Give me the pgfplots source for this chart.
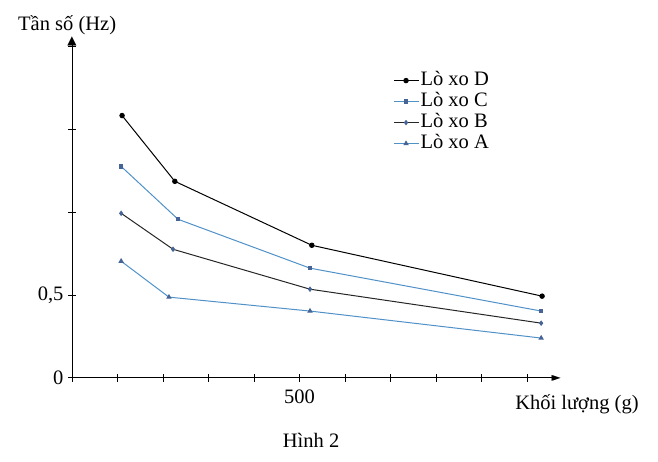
\documentclass[border=0pt]{standalone}
\usepackage{pgfplots}
\pgfplotsset{compat=1.18}
\usepackage{fontspec}
\setmainfont{Liberation Serif}
\newfontfamily\symfont{DejaVu Sans}
\definecolor{lblue}{RGB}{80,145,200}
\definecolor{mblue}{RGB}{70,100,150}
\begin{document}
\begin{tikzpicture}[x=1pt,y=1pt]
\useasboundingbox (0,0) rectangle (658,462);
\begin{axis}[
  at={(72pt,84pt)}, anchor=south west,
  scale only axis, width=486pt, height=338pt,
  xmin=0, xmax=1068, ymin=0, ymax=2.04,
  axis lines=left,
  axis line style={line width=1pt, -stealth},
  xtick={0,100,...,1000}, xticklabels={,,,,,500,,,,,},
  ytick={0,0.5,1,1.5,2}, yticklabels={0,{0,5},,,},
  tick align=center, major tick length=8pt,
  tick style={black, line width=1pt},
  font=\fontsize{20.5}{24}\selectfont,
  tick label style={font=\fontsize{20.5}{24}\selectfont},
  xticklabel style={yshift=-4pt},
  yticklabel style={xshift=-1pt},
  xlabel={Khối lượng (g)},
  xlabel style={at={(axis description cs:1.039,-0.077)}, anchor=center},
  ylabel={Tần số (Hz)},
  ylabel style={at={(axis description cs:-0.010,1.044)}, anchor=center, rotate=-90},
  legend style={at={(axis description cs:0.655,0.916)}, anchor=north west,
    draw=none, fill=none, font=\fontsize{20.5}{24}\selectfont,
    row sep=1pt,
    nodes={inner sep=1pt, text height=14pt, text depth=4pt}},
  legend cell align=left,
  legend image code/.code={\draw[mark repeat=2,mark phase=2] plot coordinates {(0pt,0pt) (12pt,0pt) (25pt,0pt)};},
  clip=false,
]
\addplot[black, line width=1pt, mark=*, mark size=2.2pt] coordinates {
  (110,1.584) (226,1.187) (527,0.801) (1033,0.494)};
\addlegendentry{Lò xo D}
\addplot[lblue, line width=1pt, mark=square*, mark size=1.6pt, mark options={fill=mblue, draw=mblue}] coordinates {
  (108,1.277) (233,0.958) (523,0.663) (1031,0.404)};
\addlegendentry{Lò xo C}
\addplot[black!85, line width=1pt, mark=diamond*, mark size=2pt, mark options={fill=mblue, draw=mblue}] coordinates {
  (108,0.994) (222,0.777) (523,0.536) (1031,0.331)};
\addlegendentry{Lò xo B}
\addplot[lblue, line width=1pt, mark=triangle*, mark size=2.2pt, mark options={fill=mblue, draw=mblue}] coordinates {
  (108,0.705) (213,0.488) (523,0.404) (1031,0.241)};
\addlegendentry{Lò xo A}
\node[font=\symfont\fontsize{12}{12}\selectfont, inner sep=0pt, anchor=north, yshift=3pt] at (axis description cs:0,1) {▲};
\node[font=\symfont\fontsize{12}{12}\selectfont, inner sep=0pt, anchor=east, xshift=3pt] at (axis description cs:1,0) {►};
\node[font=\fontsize{20.5}{24}\selectfont] at (axis description cs:0.492,-0.186) {Hình 2};
\end{axis}
\end{tikzpicture}
\end{document}
